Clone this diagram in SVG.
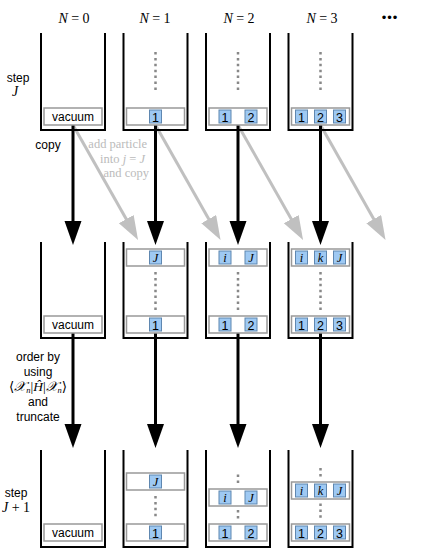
<svg xmlns="http://www.w3.org/2000/svg" width="425" height="550" viewBox="0 0 425 550">
<style>
.wall{fill:none;stroke:#000;stroke-width:2}
.box{fill:#fff;stroke:#999;stroke-width:1.5}
.sq{fill:#9ec9f3;stroke:#5f87b0;stroke-width:1}
.num{font-family:"Liberation Sans",Arial,sans-serif;font-size:12.5px;text-anchor:middle;fill:#000}
.var{font-family:"Liberation Serif","Times New Roman",serif;font-style:italic;font-size:12.5px;text-anchor:middle;fill:#000}
.dots{stroke:#888;stroke-width:2.5;stroke-dasharray:2.5 3.4}
.lbl{font-family:"Liberation Sans",Arial,sans-serif;font-size:12px;text-anchor:middle;fill:#000}
.hdr{font-family:"Liberation Serif","Times New Roman",serif;font-size:14px;text-anchor:middle;fill:#000}
.it{font-style:italic}
.gtxt{font-family:"Liberation Serif","Times New Roman",serif;font-size:12.5px;text-anchor:end;fill:#bbb}
.blk{stroke:#000;stroke-width:3;fill:none}
.gry{stroke:#c0c0c0;stroke-width:3;fill:none}
</style>
<defs>
<marker id="ab" markerUnits="userSpaceOnUse" markerWidth="26" markerHeight="18" refX="4" refY="8.5" orient="auto"><path d="M0,0 L24,8.5 L0,17 z" fill="#000"/></marker>
<marker id="ag" markerUnits="userSpaceOnUse" markerWidth="26" markerHeight="18" refX="4" refY="8.5" orient="auto"><path d="M0,0 L24,8.5 L0,17 z" fill="#c0c0c0"/></marker>
</defs>

<g id="headers">
<text class="hdr" x="74" y="23"><tspan class="it">N</tspan> = 0</text>
<text class="hdr" x="155" y="23"><tspan class="it">N</tspan> = 1</text>
<text class="hdr" x="239" y="23"><tspan class="it">N</tspan> = 2</text>
<text class="hdr" x="322" y="23"><tspan class="it">N</tspan> = 3</text>
<text x="390" y="22" style="font-family:'Liberation Sans',Arial,sans-serif;font-size:13px;text-anchor:middle;letter-spacing:1px">•••</text>
</g>

<g id="side-labels">
<text class="lbl" x="18" y="82">step</text>
<text class="hdr it" x="15" y="96">J</text>
<text class="lbl" x="48" y="149">copy</text>
<text class="gtxt" x="147" y="148">add particle</text>
<text class="gtxt" x="145" y="163">into <tspan class="it">j</tspan> = <tspan class="it">J</tspan></text>
<text class="gtxt" x="149" y="177">and copy</text>
<text class="lbl" x="38" y="361">order by</text>
<text class="lbl" x="38" y="376">using</text>
<text x="38" y="391" style="font-family:'Liberation Serif','DejaVu Serif',serif;font-size:13.5px;text-anchor:middle">⟨<tspan class="it">𝒳</tspan><tspan font-size="8.5" dy="2" class="it">n</tspan><tspan dy="-2">|</tspan><tspan class="it">Ĥ</tspan>|<tspan class="it">𝒳</tspan><tspan font-size="8.5" dy="2" class="it">n</tspan><tspan dy="-2">⟩</tspan></text>
<text class="lbl" x="38" y="406">and</text>
<text class="lbl" x="38" y="421">truncate</text>
<text class="lbl" x="16" y="497">step</text>
<text class="hdr" x="16" y="512"><tspan class="it">J</tspan> + 1</text>
</g>

<g id="connectors">
<line class="gry" x1="73" y1="125" x2="128.2" y2="222.6" marker-end="url(#ag)"/>
<line class="gry" x1="155.5" y1="125" x2="210.7" y2="222.6" marker-end="url(#ag)"/>
<line class="gry" x1="238" y1="125" x2="293.2" y2="222.6" marker-end="url(#ag)"/>
<line class="gry" x1="320.5" y1="125" x2="375.7" y2="222.6" marker-end="url(#ag)"/>
<line class="blk" x1="73" y1="125" x2="73" y2="225" marker-end="url(#ab)"/>
<line class="blk" x1="155.5" y1="125" x2="155.5" y2="225" marker-end="url(#ab)"/>
<line class="blk" x1="238" y1="125" x2="238" y2="225" marker-end="url(#ab)"/>
<line class="blk" x1="320.5" y1="125" x2="320.5" y2="225" marker-end="url(#ab)"/>
<line class="blk" x1="73" y1="333" x2="73" y2="428" marker-end="url(#ab)"/>
<line class="blk" x1="155.5" y1="333" x2="155.5" y2="428" marker-end="url(#ab)"/>
<line class="blk" x1="238" y1="333" x2="238" y2="428" marker-end="url(#ab)"/>
<line class="blk" x1="320.5" y1="333" x2="320.5" y2="428" marker-end="url(#ab)"/>
</g>

<!-- Row 1: step J -->
<g id="r1n0">
<path class="wall" d="M41,33 V130 H105 V33"/>
<rect class="box" x="44" y="108" width="58" height="17"/>
<text class="lbl" x="73" y="121">vacuum</text>
</g>
<g id="r1n1">
<path class="wall" d="M123.5,33 V130 H187.5 V33"/>
<line class="dots" x1="155.5" y1="52" x2="155.5" y2="90"/>
<rect class="box" x="126.5" y="108" width="58" height="17"/>
<rect class="sq" x="149.5" y="110" width="12" height="13"/><text class="num" x="155.5" y="121.5">1</text>
</g>
<g id="r1n2">
<path class="wall" d="M206,33 V130 H270 V33"/>
<line class="dots" x1="238" y1="52" x2="238" y2="90"/>
<rect class="box" x="209" y="108" width="58" height="17"/>
<rect class="sq" x="219" y="110" width="12" height="13"/><text class="num" x="225" y="121.5">1</text>
<rect class="sq" x="245" y="110" width="12" height="13"/><text class="num" x="251" y="121.5">2</text>
</g>
<g id="r1n3">
<path class="wall" d="M288.5,33 V130 H352.5 V33"/>
<line class="dots" x1="320.5" y1="52" x2="320.5" y2="90"/>
<rect class="box" x="291.5" y="108" width="58" height="17"/>
<rect class="sq" x="295.5" y="110" width="12" height="13"/><text class="num" x="301.5" y="121.5">1</text>
<rect class="sq" x="314.5" y="110" width="12" height="13"/><text class="num" x="320.5" y="121.5">2</text>
<rect class="sq" x="333.5" y="110" width="12" height="13"/><text class="num" x="339.5" y="121.5">3</text>
</g>

<!-- Row 2 -->
<g id="r2n0">
<path class="wall" d="M41,242 V338 H105 V242"/>
<rect class="box" x="44" y="316" width="58" height="17"/>
<text class="lbl" x="73" y="329">vacuum</text>
</g>
<g id="r2n1">
<path class="wall" d="M123.5,242 V338 H187.5 V242"/>
<rect class="box" x="126.5" y="249" width="58" height="17"/>
<rect class="sq" x="149.5" y="251" width="12" height="13"/><text class="var" x="155.5" y="262">J</text>
<line class="dots" x1="155.5" y1="272" x2="155.5" y2="310"/>
<rect class="box" x="126.5" y="316" width="58" height="17"/>
<rect class="sq" x="149.5" y="318" width="12" height="13"/><text class="num" x="155.5" y="329.5">1</text>
</g>
<g id="r2n2">
<path class="wall" d="M206,242 V338 H270 V242"/>
<rect class="box" x="209" y="249" width="58" height="17"/>
<rect class="sq" x="219" y="251" width="12" height="13"/><text class="var" x="225" y="262">i</text>
<rect class="sq" x="245" y="251" width="12" height="13"/><text class="var" x="251" y="262">J</text>
<line class="dots" x1="238" y1="272" x2="238" y2="310"/>
<rect class="box" x="209" y="316" width="58" height="17"/>
<rect class="sq" x="219" y="318" width="12" height="13"/><text class="num" x="225" y="329.5">1</text>
<rect class="sq" x="245" y="318" width="12" height="13"/><text class="num" x="251" y="329.5">2</text>
</g>
<g id="r2n3">
<path class="wall" d="M288.5,242 V338 H352.5 V242"/>
<rect class="box" x="291.5" y="249" width="58" height="17"/>
<rect class="sq" x="295.5" y="251" width="12" height="13"/><text class="var" x="301.5" y="262">i</text>
<rect class="sq" x="314.5" y="251" width="12" height="13"/><text class="var" x="320.5" y="262">k</text>
<rect class="sq" x="333.5" y="251" width="12" height="13"/><text class="var" x="339.5" y="262">J</text>
<line class="dots" x1="320.5" y1="272" x2="320.5" y2="310"/>
<rect class="box" x="291.5" y="316" width="58" height="17"/>
<rect class="sq" x="295.5" y="318" width="12" height="13"/><text class="num" x="301.5" y="329.5">1</text>
<rect class="sq" x="314.5" y="318" width="12" height="13"/><text class="num" x="320.5" y="329.5">2</text>
<rect class="sq" x="333.5" y="318" width="12" height="13"/><text class="num" x="339.5" y="329.5">3</text>
</g>

<!-- Row 3: step J+1 -->
<g id="r3n0">
<path class="wall" d="M41,450 V547 H105 V450"/>
<rect class="box" x="44" y="524" width="58" height="17"/>
<text class="lbl" x="73" y="537">vacuum</text>
</g>
<g id="r3n1">
<path class="wall" d="M123.5,450 V547 H187.5 V450"/>
<rect class="box" x="126.5" y="473" width="58" height="17"/>
<rect class="sq" x="149.5" y="475" width="12" height="13"/><text class="var" x="155.5" y="486">J</text>
<line class="dots" x1="155.5" y1="496" x2="155.5" y2="516.2"/>
<rect class="box" x="126.5" y="524" width="58" height="17"/>
<rect class="sq" x="149.5" y="526" width="12" height="13"/><text class="num" x="155.5" y="537.5">1</text>
</g>
<g id="r3n2">
<path class="wall" d="M206,450 V547 H270 V450"/>
<line class="dots" x1="238" y1="474.5" x2="238" y2="482.9"/>
<rect class="box" x="209" y="489" width="58" height="17"/>
<rect class="sq" x="219" y="491" width="12" height="13"/><text class="var" x="225" y="502">i</text>
<rect class="sq" x="245" y="491" width="12" height="13"/><text class="var" x="251" y="502">J</text>
<line class="dots" x1="238" y1="510" x2="238" y2="518.4"/>
<rect class="box" x="209" y="524" width="58" height="17"/>
<rect class="sq" x="219" y="526" width="12" height="13"/><text class="num" x="225" y="537.5">1</text>
<rect class="sq" x="245" y="526" width="12" height="13"/><text class="num" x="251" y="537.5">2</text>
</g>
<g id="r3n3">
<path class="wall" d="M288.5,450 V547 H352.5 V450"/>
<line class="dots" x1="320.5" y1="468" x2="320.5" y2="476.4"/>
<rect class="box" x="291.5" y="482" width="58" height="17"/>
<rect class="sq" x="295.5" y="484" width="12" height="13"/><text class="var" x="301.5" y="495">i</text>
<rect class="sq" x="314.5" y="484" width="12" height="13"/><text class="var" x="320.5" y="495">k</text>
<rect class="sq" x="333.5" y="484" width="12" height="13"/><text class="var" x="339.5" y="495">J</text>
<line class="dots" x1="320.5" y1="503.5" x2="320.5" y2="517.8"/>
<rect class="box" x="291.5" y="524" width="58" height="17"/>
<rect class="sq" x="295.5" y="526" width="12" height="13"/><text class="num" x="301.5" y="537.5">1</text>
<rect class="sq" x="314.5" y="526" width="12" height="13"/><text class="num" x="320.5" y="537.5">2</text>
<rect class="sq" x="333.5" y="526" width="12" height="13"/><text class="num" x="339.5" y="537.5">3</text>
</g>
</svg>
